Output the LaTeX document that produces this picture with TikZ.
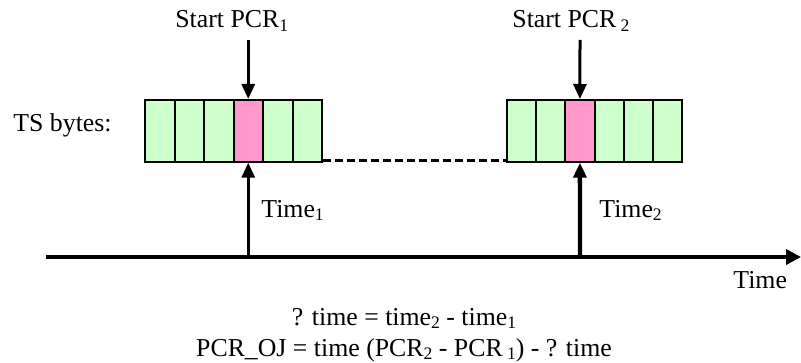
\documentclass[tikz,border=0pt]{standalone}
\usepackage{fontspec}
\setmainfont{Liberation Serif}
\usetikzlibrary{arrows.meta}
\newcommand{\lowsub}[1]{\raisebox{-0.28ex}{\fontsize{8.8}{9}\selectfont #1}}
\definecolor{cellgreen}{RGB}{204,255,204}
\definecolor{cellpink}{RGB}{255,153,204}
\tikzset{
  lbl/.style={inner sep=0pt, font=\fontsize{12.9}{15}\selectfont},
  cell/.style={draw=black, line width=1pt, fill=cellgreen, inner sep=0pt,
    minimum height=30.85pt},
  pcrcell/.style={cell, fill=cellpink},
  arr/.style={line width=1.5pt, -{Triangle[length=7.5pt,width=6.5pt]}},
  thickarr/.style={line width=2.2pt, -{Triangle[length=7.5pt,width=6.5pt]}},
  axis/.style={line width=1.8pt, -{Triangle[length=7.5pt,width=7.5pt]}},
  gap/.style={line width=1.5pt, dash pattern=on 4pt off 2pt}
}
\begin{document}
\begin{tikzpicture}[x=0.5pt,y=-0.5pt]
\useasboundingbox (0,0) rectangle (801,363);
% left cells
\foreach \i in {1,...,6}{
  \ifnum\i=4
    \node[pcrcell, minimum width=14.75pt] (L\i) at ({145+14.75+29.5*(\i-1)},130.85) {};
  \else
    \node[cell, minimum width=14.75pt] (L\i) at ({145+14.75+29.5*(\i-1)},130.85) {};
  \fi
}
% right cells
\foreach \i in {1,...,6}{
  \ifnum\i=3
    \node[pcrcell, minimum width=14.58pt] (R\i) at ({507+14.58+29.17*(\i-1)},130.85) {};
  \else
    \node[cell, minimum width=14.58pt] (R\i) at ({507+14.58+29.17*(\i-1)},130.85) {};
  \fi
}
% labels
\node[lbl, anchor=base west] (ts) at (13,132) {TS bytes:};
\node[lbl, anchor=base west] (sp1) at (175,28) {Start PCR\lowsub{1}};
\node[lbl, anchor=base west] (sp2) at (512,28) {Start PCR\,\lowsub{2}};
\node[lbl, anchor=base west] (t1) at (261,217) {Time\lowsub{1}};
\node[lbl, anchor=base west] (t2) at (599,217) {Time\lowsub{2}};
\node[lbl, anchor=base west] (tm) at (733,288) {Time};
\node[lbl, anchor=base] (f1) at (404,325) {? time = time\lowsub{2} - time\lowsub{1}};
\node[lbl, anchor=base] (f2) at (404,356) {PCR\_OJ = time (PCR\lowsub{2} - PCR\,\lowsub{1}) - ? time};
% coordinates
\coordinate (a1) at (248.25,40);
\coordinate (a2) at (580,40);
\coordinate (ax0) at (46,257);
\coordinate (ax1) at (801,257);
\coordinate (b1) at (248.25,257);
\coordinate (b2) at (580,257);
% dashed gap
\draw[gap] ([yshift=0.9pt]L6.south east) -- ([yshift=0.9pt]R1.south west);
% arrows
\draw[arr] (a1) -- (L4.north);
\draw[arr] (a2) -- (R3.north);
\draw[axis] (ax0) -- (ax1);
\draw[arr] (b1) -- (L4.south);
\draw[thickarr] (b2) -- (R3.south);
\end{tikzpicture}
\end{document}
